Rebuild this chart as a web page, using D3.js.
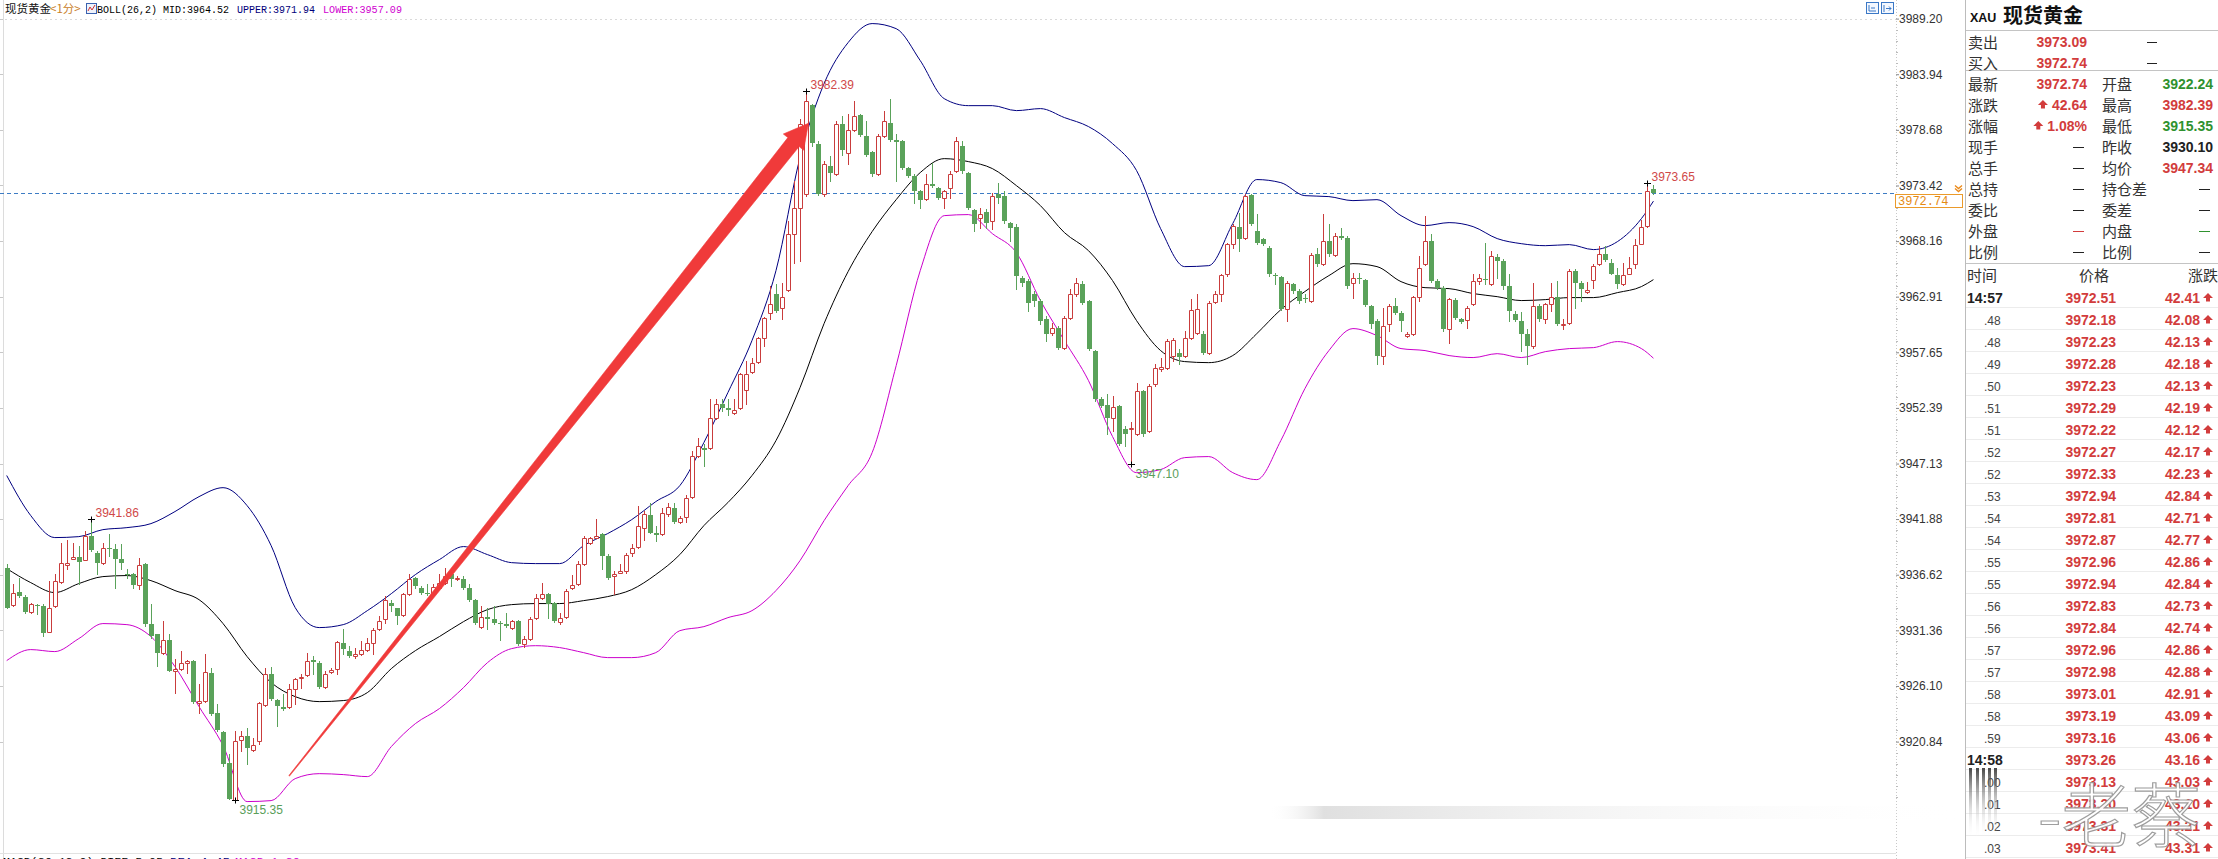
<!DOCTYPE html>
<html><head><meta charset="utf-8">
<script src="https://cdn.jsdelivr.net/npm/d3@7"></script>
<style>body{margin:0;background:#fff;}svg{display:block;}</style>
</head><body><svg id="c" width="2218" height="859"></svg>
<script>
// ---------------- DATA ----------------
const opens = [3937.29,3933.79,3935.03,3934.55,3933.13,3933.79,3933.70,3931.24,3933.70,3935.97,
3937.57,3938.14,3938.33,3938.05,3940.31,3938.71,3937.76,3939.18,3939.09,3938.14,
3936.72,3936.72,3935.68,3937.67,3932.00,3931.05,3929.25,3930.48,3927.55,3927.74,
3928.31,3928.50,3924.53,3924.72,3927.36,3923.58,3921.78,3918.85,3915.35,3921.03,
3921.41,3920.08,3920.93,3924.34,3927.27,3924.81,3924.15,3924.15,3925.85,3926.89,
3927.17,3928.59,3928.31,3926.04,3927.46,3927.74,3930.20,3929.44,3928.97,3929.16,
3929.54,3930.20,3931.52,3932.47,3933.98,3933.51,3932.85,3934.83,3936.35,3935.40,
3934.93,3934.93,3935.40,3935.87,3936.72,3936.25,3936.25,3935.40,3934.26,3931.71,
3932.66,3932.47,3932.09,3932.00,3931.62,3932.28,3930.10,3930.58,3932.56,3934.45,
3934.83,3933.98,3932.19,3932.66,3935.40,3935.78,3937.67,3939.65,3940.13,3940.51,
3938.42,3936.54,3936.82,3937.01,3938.71,3939.28,3941.07,3942.30,3940.60,3940.51,
3942.40,3942.96,3941.64,3942.11,3944.00,3947.88,3948.63,3948.63,3951.47,3952.80,
3952.42,3951.95,3952.42,3954.12,3955.82,3956.77,3959.04,3961.40,3963.20,3961.87,
3963.57,3968.87,3971.33,3972.65,3981.07,3977.38,3972.65,3975.30,3974.54,3979.27,
3976.53,3978.70,3980.12,3978.14,3976.62,3974.54,3978.14,3979.37,3977.76,3977.66,
3975.11,3974.35,3972.94,3972.18,3973.60,3973.22,3972.27,3973.22,3974.83,3977.19,
3974.64,3971.14,3970.38,3970.95,3970.10,3972.65,3972.46,3969.91,3969.53,3964.71,
3964.43,3963.20,3962.54,3960.83,3959.51,3959.98,3958.09,3960.93,3963.20,3964.14,
3962.54,3957.81,3953.27,3952.70,3951.47,3952.61,3950.43,3950.43,3949.96,3954.03,
3950.24,3954.69,3956.11,3956.20,3957.34,3957.62,3957.34,3959.04,3959.51,3959.41,
3957.62,3962.44,3963.20,3965.09,3967.92,3969.53,3968.49,3972.56,3969.15,3968.40,
3967.55,3965.00,3964.80,3961.78,3964.14,3963.48,3962.82,3962.54,3966.98,3966.03,
3968.21,3966.88,3968.68,3968.49,3964.24,3964.71,3964.52,3962.06,3960.64,3957.34,
3960.36,3962.06,3961.40,3959.23,3959.41,3962.91,3966.03,3968.21,3964.43,3963.76,
3959.89,3962.63,3960.83,3960.74,3962.25,3964.43,3964.62,3964.14,3966.69,3966.32,
3963.95,3961.31,3960.64,3959.41,3958.28,3962.06,3960.83,3962.25,3962.91,3960.26,
3960.45,3965.37,3964.24,3963.39,3964.52,3966.03,3966.98,3966.13,3965.00,3964.14,
3965.09,3966.03,3967.92,3969.63,3973.13];
const highs = [3937.67,3935.78,3936.35,3934.74,3933.98,3933.89,3933.89,3936.06,3936.72,3939.65,
3939.94,3939.65,3939.37,3940.79,3941.86,3938.90,3939.65,3940.51,3939.56,3939.56,
3937.20,3936.82,3938.24,3937.76,3933.89,3931.05,3932.28,3931.05,3928.69,3929.44,
3928.59,3928.59,3926.32,3929.16,3927.84,3924.43,3921.88,3919.70,3921.88,3921.88,
3922.16,3921.22,3924.62,3927.84,3927.93,3924.91,3925.38,3926.32,3926.89,3927.27,
3929.25,3928.97,3928.50,3927.55,3927.84,3930.39,3931.52,3929.91,3929.73,3930.39,
3930.67,3931.62,3932.75,3934.64,3934.26,3933.51,3934.93,3936.72,3936.44,3935.59,
3935.78,3935.78,3936.72,3937.29,3936.82,3936.54,3936.54,3935.78,3934.36,3933.70,
3933.51,3933.70,3932.28,3933.03,3932.37,3932.37,3930.86,3932.66,3934.83,3935.87,
3934.93,3934.07,3933.03,3935.31,3936.63,3937.95,3940.31,3940.22,3941.92,3940.60,
3938.61,3937.01,3937.67,3938.71,3939.56,3943.15,3942.68,3943.44,3941.26,3942.96,
3943.44,3943.44,3942.21,3944.19,3948.35,3949.58,3949.01,3953.27,3953.27,3953.27,
3953.27,3953.27,3955.73,3956.86,3957.15,3959.13,3961.02,3963.95,3964.14,3964.24,
3970.10,3973.88,3979.74,3982.39,3981.16,3977.66,3975.77,3976.24,3979.55,3980.03,
3980.22,3981.45,3980.22,3979.55,3976.72,3978.33,3980.50,3981.63,3978.33,3977.76,
3975.21,3974.54,3973.03,3974.54,3975.58,3973.31,3973.03,3974.83,3978.04,3977.66,
3974.73,3971.23,3971.33,3971.23,3972.75,3973.69,3972.94,3970.01,3969.82,3964.90,
3964.62,3963.48,3962.72,3961.12,3960.45,3960.17,3961.12,3963.67,3964.71,3964.43,
3962.63,3957.90,3953.46,3953.74,3953.55,3952.70,3950.71,3951.09,3954.78,3954.12,
3954.69,3956.58,3957.15,3958.94,3959.04,3958.00,3959.70,3962.72,3963.20,3959.70,
3962.54,3963.48,3965.09,3968.02,3969.82,3970.86,3972.65,3972.65,3970.76,3968.49,
3967.73,3965.18,3964.90,3964.43,3964.24,3963.67,3963.20,3967.07,3967.55,3970.76,
3969.82,3968.96,3969.44,3968.68,3965.18,3965.18,3964.62,3962.16,3960.83,3961.87,
3962.25,3962.82,3961.59,3959.60,3963.01,3966.79,3970.57,3968.87,3964.62,3963.95,
3962.82,3962.82,3960.93,3962.06,3965.09,3965.09,3968.02,3967.26,3966.98,3966.51,
3965.09,3961.59,3961.50,3959.89,3964.24,3962.25,3962.35,3964.24,3964.43,3960.83,
3965.56,3965.56,3964.43,3964.33,3966.03,3967.73,3967.73,3966.51,3965.66,3966.13,
3966.69,3968.40,3970.19,3973.65,3973.50];
const lows = [3933.51,3933.70,3934.55,3933.03,3933.03,3932.94,3930.86,3931.24,3933.60,3935.87,
3937.20,3938.14,3935.78,3938.05,3938.90,3936.72,3937.67,3938.42,3935.40,3937.20,
3936.35,3935.40,3935.31,3931.81,3930.67,3928.02,3929.16,3927.55,3925.47,3927.65,
3927.36,3924.53,3923.58,3924.62,3923.39,3921.88,3918.57,3915.45,3915.35,3919.99,
3918.76,3919.99,3920.65,3924.24,3924.81,3922.35,3923.87,3924.05,3924.43,3925.94,
3927.08,3927.27,3925.94,3925.94,3927.36,3927.27,3929.16,3928.88,3928.78,3929.06,
3929.44,3929.16,3931.43,3932.09,3933.22,3932.00,3932.75,3934.74,3935.40,3934.83,
3934.74,3934.83,3935.40,3935.78,3935.59,3936.16,3935.31,3934.17,3932.00,3931.62,
3931.52,3932.00,3930.48,3931.71,3931.52,3930.01,3929.82,3930.48,3932.47,3934.36,
3932.56,3932.19,3932.00,3932.56,3935.31,3935.68,3937.57,3939.56,3940.13,3937.20,
3936.25,3934.83,3936.82,3936.82,3938.42,3939.18,3939.94,3940.60,3939.84,3940.41,
3942.21,3941.54,3941.54,3941.64,3943.91,3947.79,3946.87,3948.54,3951.38,3952.13,
3951.76,3951.85,3952.32,3952.80,3955.73,3956.67,3958.28,3960.83,3961.50,3960.83,
3963.48,3966.13,3966.32,3972.46,3977.19,3972.56,3972.46,3973.88,3974.45,3976.34,
3975.49,3978.61,3978.14,3976.24,3974.35,3974.45,3978.04,3977.66,3973.88,3975.02,
3974.26,3971.80,3971.33,3972.08,3973.31,3972.18,3971.33,3972.27,3974.73,3974.64,
3971.23,3969.15,3969.44,3969.44,3969.34,3971.80,3969.91,3968.21,3963.67,3963.95,
3961.59,3962.06,3960.36,3958.75,3959.32,3958.00,3958.00,3960.83,3963.01,3962.25,
3957.90,3953.08,3952.51,3949.96,3950.24,3948.92,3948.82,3947.10,3949.87,3949.77,
3950.15,3954.50,3955.92,3956.11,3956.86,3956.58,3957.24,3958.94,3959.41,3957.53,
3957.53,3962.35,3962.54,3964.90,3967.55,3967.26,3968.40,3969.72,3967.92,3967.83,
3964.90,3964.14,3961.68,3960.64,3963.29,3962.35,3962.44,3962.44,3965.84,3965.94,
3966.79,3966.79,3968.40,3963.76,3962.82,3964.24,3962.06,3959.98,3956.58,3956.58,
3959.70,3961.31,3959.70,3959.13,3959.32,3962.54,3965.94,3964.33,3963.67,3959.70,
3958.56,3960.83,3960.45,3959.98,3962.16,3964.14,3964.14,3964.05,3964.71,3963.67,
3960.64,3960.64,3957.81,3956.58,3958.09,3960.64,3960.45,3961.59,3960.26,3959.89,
3960.36,3961.87,3962.54,3963.29,3963.76,3965.94,3966.32,3965.09,3963.76,3964.05,
3965.09,3965.66,3967.92,3969.53,3972.65];
const closes = [3933.51,3934.93,3934.64,3933.13,3933.89,3933.70,3931.14,3933.51,3936.06,3937.76,
3937.76,3938.33,3937.86,3940.31,3938.99,3937.76,3939.18,3939.09,3938.14,3937.76,
3936.63,3935.68,3937.57,3932.00,3930.86,3929.25,3930.48,3927.55,3927.74,3928.31,
3928.50,3924.62,3924.72,3927.46,3923.49,3921.97,3918.76,3915.45,3920.93,3921.41,
3920.27,3920.56,3924.53,3927.27,3924.91,3924.24,3923.96,3925.85,3926.80,3926.99,
3928.50,3928.40,3926.04,3927.27,3927.65,3930.29,3929.63,3928.97,3929.16,3929.54,
3930.20,3931.43,3932.28,3934.26,3933.70,3932.75,3934.83,3936.25,3935.59,3934.93,
3934.83,3935.49,3935.87,3936.54,3936.25,3936.35,3935.40,3934.26,3932.09,3932.66,
3932.47,3932.09,3932.00,3931.81,3932.28,3930.10,3930.58,3932.47,3934.45,3934.83,
3933.89,3932.28,3932.56,3935.12,3935.68,3937.67,3940.13,3940.13,3940.31,3938.42,
3936.35,3936.72,3937.01,3938.52,3939.18,3941.26,3942.40,3940.60,3940.41,3942.49,
3943.06,3941.64,3942.02,3943.91,3947.88,3948.82,3948.44,3951.47,3952.80,3952.42,
3952.23,3952.23,3955.63,3955.63,3956.67,3959.04,3960.93,3962.25,3961.59,3962.91,
3968.87,3971.33,3979.27,3981.45,3977.47,3972.65,3975.49,3974.64,3979.27,3976.81,
3978.70,3980.03,3978.23,3976.34,3974.54,3978.14,3979.55,3977.76,3977.57,3975.11,
3974.35,3972.94,3972.08,3973.60,3973.41,3972.27,3972.94,3974.54,3977.66,3974.83,
3971.33,3969.82,3970.76,3969.91,3972.46,3972.27,3970.10,3969.44,3964.90,3964.24,
3962.35,3962.54,3960.64,3959.41,3959.98,3958.09,3960.93,3963.20,3964.24,3962.35,
3958.00,3953.27,3952.61,3951.47,3952.51,3949.01,3949.96,3950.52,3954.03,3949.96,
3954.50,3956.20,3956.30,3958.75,3958.85,3957.24,3959.04,3961.68,3961.78,3957.62,
3962.35,3963.20,3965.00,3967.92,3969.63,3968.40,3972.46,3969.82,3968.02,3967.92,
3965.09,3964.90,3961.78,3964.24,3963.48,3962.54,3962.72,3966.88,3966.03,3968.21,
3966.98,3968.68,3968.49,3963.95,3964.71,3964.62,3962.16,3960.36,3957.34,3960.17,
3962.06,3961.40,3960.64,3959.41,3962.91,3965.66,3968.21,3964.43,3963.76,3959.89,
3962.72,3960.93,3960.55,3961.87,3964.43,3964.71,3964.52,3966.79,3966.32,3963.95,
3961.59,3960.74,3959.41,3958.28,3962.06,3960.83,3962.25,3962.91,3960.36,3960.36,
3965.37,3964.24,3963.67,3963.57,3965.84,3966.98,3966.41,3965.09,3964.14,3965.00,
3965.66,3967.83,3969.53,3972.94,3972.74];

// Bollinger band readings (candle number -> value)
const bandIdx = [1,5,9,13,17,21,25,29,33,37,41,45,49,53,57,61,65,69,73,77,81,85,89,93,97,101,105,109,113,117,121,125,129,133,137,141,145,149,153,157,161,165,169,173,177,181,185,189,193,197,201,205,209,213,217,221,225,229,233,237,241,245,249,253,257,261,265,269,273,275];
const upperBand = [3946.00,3942.21,3940.13,3940.22,3940.88,3941.07,3941.45,3942.59,3944.00,3944.85,3943.15,3939.37,3933.51,3931.62,3931.90,3933.22,3934.83,3936.63,3938.05,3939.28,3938.52,3937.76,3937.67,3937.67,3939.37,3940.51,3941.83,3943.53,3945.04,3949.11,3953.84,3958.75,3965.37,3976.06,3983.05,3986.93,3988.73,3988.25,3985.23,3981.63,3980.97,3980.97,3980.50,3980.69,3979.84,3978.99,3977.38,3974.83,3969.34,3965.75,3965.84,3969.82,3973.98,3973.69,3972.46,3972.37,3971.99,3972.08,3970.57,3969.63,3969.91,3969.53,3968.40,3967.92,3967.73,3967.83,3967.36,3968.11,3970.29,3971.94];
const midBand = [3937.20,3935.87,3934.93,3935.78,3936.44,3936.54,3936.06,3935.12,3934.26,3932.00,3928.88,3926.42,3925.09,3924.62,3924.72,3925.47,3927.74,3929.44,3930.77,3932.18,3933.32,3933.79,3933.89,3933.89,3934.17,3934.55,3935.21,3936.63,3938.52,3941.26,3943.44,3945.99,3949.30,3954.31,3960.36,3965.28,3969.06,3972.08,3974.64,3975.96,3975.68,3975.02,3973.41,3971.52,3968.96,3967.26,3964.43,3960.64,3957.81,3956.77,3956.67,3957.34,3959.41,3961.68,3963.39,3964.90,3966.03,3965.75,3964.33,3963.76,3963.67,3963.20,3962.91,3962.54,3962.63,3962.82,3962.82,3963.29,3963.86,3964.52];
const lowerBand = [3928.50,3929.54,3929.35,3930.58,3932.00,3931.90,3930.77,3927.93,3924.15,3920.46,3915.17,3915.26,3917.34,3917.81,3917.72,3917.53,3920.37,3922.54,3923.96,3925.94,3928.31,3929.63,3929.91,3929.73,3929.25,3928.78,3928.78,3929.25,3931.33,3931.71,3932.56,3933.22,3935.12,3937.95,3941.73,3945.04,3948.16,3956.39,3965.37,3970.57,3970.67,3968.87,3967.07,3962.54,3958.75,3954.97,3949.68,3946.27,3946.56,3947.69,3947.79,3946.27,3945.61,3949.30,3954.21,3957.81,3959.89,3959.23,3958.00,3957.81,3957.34,3957.15,3957.52,3957.15,3957.71,3958.00,3958.09,3958.66,3958.00,3957.09];

const yTicks = [3989.20,3983.94,3978.68,3973.42,3968.16,3962.91,3957.65,3952.39,3947.13,3941.88,3936.62,3931.36,3926.10,3920.84];
const lastPrice = 3972.74;
const extremeMarks = [
  {i:15, v:3941.86, kind:'high'},
  {i:39, v:3915.35, kind:'low'},
  {i:134, v:3982.39, kind:'high'},
  {i:188, v:3947.10, kind:'low'},
  {i:274, v:3973.65, kind:'high'}
];
const arrowFrom = [48.0, 3917.6];
const arrowTo = [134.4, 3979.3];

// Right quote panel
const quoteTop = [['卖出','3973.09'],['买入','3972.74']];
const quoteLeft = [['最新','3972.74','r'],['涨跌','42.64','ru'],['涨幅','1.08%','ru'],['现手','—','k'],['总手','—','k'],['总持','—','k'],['委比','—','k'],['外盘','—','r'],['比例','—','k']];
const quoteRight = [['开盘','3922.24','g'],['最高','3982.39','r'],['最低','3915.35','g'],['昨收','3930.10','k'],['均价','3947.34','r'],['持仓差','—','k'],['委差','—','k'],['内盘','—','g'],['比例','—','k']];
const tickTimes = ['14:57','.48','.48','.49','.50','.51','.51','.52','.52','.53','.54','.54','.55','.55','.56','.56','.57','.57','.58','.58','.59','14:58','.00','.01','.02','.03'];
const tickPrices = ['3972.51','3972.18','3972.23','3972.28','3972.23','3972.29','3972.22','3972.27','3972.33','3972.94','3972.81','3972.87','3972.96','3972.94','3972.83','3972.84','3972.96','3972.98','3973.01','3973.19','3973.16','3973.26','3973.13','3973.20','3973.31','3973.41'];
const tickChanges = ['42.41','42.08','42.13','42.18','42.13','42.19','42.12','42.17','42.23','42.84','42.71','42.77','42.86','42.84','42.73','42.74','42.86','42.88','42.91','43.09','43.06','43.16','43.03','43.10','43.21','43.31'];

// ---------------- DRAW ----------------
const RED = '#c93c3c', GREEN = '#5aa25a';
const QRED = '#d23c3c', QGREEN = '#2f922f';
const svg = d3.select('#c');
svg.append('rect').attr('width',2218).attr('height',859).attr('fill','#fff');

const x = d3.scaleLinear().domain([1,275]).range([6.7, 6.7+274*6.01]);
const y = d3.scaleLinear().domain([3920.84,3989.20]).range([741.6,18.6]);

// frame lines
svg.append('line').attr('x1',3.5).attr('x2',3.5).attr('y1',0).attr('y2',859).attr('stroke','#dcdcdc');
svg.append('line').attr('x1',0).attr('x2',1896).attr('y1',853.5).attr('y2',853.5).attr('stroke','#e2e2e2');
svg.append('line').attr('x1',0).attr('x2',1896).attr('y1',Math.round(y(yTicks[0]))+0.5).attr('y2',Math.round(y(yTicks[0]))+0.5).attr('stroke','#dadada').attr('stroke-dasharray','2,3');
svg.append('g').selectAll('line').data(yTicks).join('line')
  .attr('x1',0).attr('x2',3).attr('y1',d=>Math.round(y(d))+0.5).attr('y2',d=>Math.round(y(d))+0.5).attr('stroke','#c8c8c8');

// header
const hdr = svg.append('g');
hdr.append('text').attr('x',5).attr('y',13).attr('font-family','Noto Sans CJK SC').attr('font-size',11.5).attr('fill','#111').text('现货黄金');
hdr.append('text').attr('x',50).attr('y',13).attr('font-family','Noto Sans CJK SC').attr('font-size',11.5).attr('fill','#c9802a').text('<1分>');
hdr.append('rect').attr('x',86.5).attr('y',3.5).attr('width',10).attr('height',10).attr('fill','#eef2fb').attr('stroke','#3a62b0');
hdr.append('path').attr('d','M88,11 L90,7 L92,10 L95,5').attr('fill','none').attr('stroke','#d03030');
const mono = 'Liberation Mono, DejaVu Sans Mono, monospace';
hdr.append('text').attr('x',97).attr('y',13).attr('font-family',mono).attr('font-size',11.5).attr('textLength',132).attr('lengthAdjust','spacingAndGlyphs').attr('fill','#000')
  .text('BOLL(26,2) MID:' + midBand[midBand.length-1].toFixed(2));
hdr.append('text').attr('x',237).attr('y',13).attr('font-family',mono).attr('font-size',11.5).attr('textLength',78).attr('lengthAdjust','spacingAndGlyphs').attr('fill','#00007a')
  .text('UPPER:' + upperBand[upperBand.length-1].toFixed(2));
hdr.append('text').attr('x',323).attr('y',13).attr('font-family',mono).attr('font-size',11.5).attr('textLength',79).attr('lengthAdjust','spacingAndGlyphs').attr('fill','#d000d0')
  .text('LOWER:' + lowerBand[lowerBand.length-1].toFixed(2));

// bottom MACD text (clipped at the edge, as in the source)
const macd = svg.append('g').attr('font-family',mono).attr('font-size',11);
macd.append('text').attr('x',3).attr('y',865).attr('textLength',160).attr('lengthAdjust','spacingAndGlyphs').attr('fill','#000').text('MACD(26,12,9) DIFF:5.05');
macd.append('text').attr('x',170).attr('y',865).attr('textLength',60).attr('lengthAdjust','spacingAndGlyphs').attr('fill','#00007a').text('DEA:4.45');
macd.append('text').attr('x',235).attr('y',865).attr('textLength',65).attr('lengthAdjust','spacingAndGlyphs').attr('fill','#d000d0').text('MACD:1.20');

// right y axis
const axisG = svg.append('g').attr('transform','translate(1896,0)');
axisG.append('line').attr('x1',0.5).attr('x2',0.5).attr('y1',0).attr('y2',859).attr('stroke','#c8c8c8').attr('stroke-dasharray','1,2');
const ax = d3.axisRight(y).tickValues(yTicks).tickFormat(d3.format('.2f')).tickSize(3).tickPadding(0);
axisG.append('g').call(ax).call(g=>{
  g.select('.domain').remove();
  g.selectAll('.tick line').attr('stroke','#888');
  g.selectAll('.tick text').attr('font-family','Liberation Sans, Arial').attr('font-size',12).attr('fill','#333');
});
const minor = [];
yTicks.forEach((t,k)=>{ for(let j=1;j<5;j++){ minor.push(t - j*(yTicks[0]-yTicks[1])/5); } });
for(let j=1;j<6;j++) minor.push(yTicks[yTicks.length-1]-j*(yTicks[0]-yTicks[1])/5);
axisG.append('g').selectAll('line').data(minor.filter(v=>y(v)<850)).join('line')
  .attr('x1',0).attr('x2',2).attr('y1',d=>Math.round(y(d))+0.5).attr('y2',d=>Math.round(y(d))+0.5).attr('stroke','#bbb');

// top-right small icons
[1866,1881].forEach((ix,k)=>{
  svg.append('rect').attr('x',ix+0.5).attr('y',2.5).attr('width',12).attr('height',11).attr('fill','#f4f8ff').attr('stroke','#3b78c6');
  svg.append('path').attr('d', k===0 ? `M${ix+3},5 v6 h7 M${ix+5},8 h4` : `M${ix+3},5 v7 M${ix+5},8.5 h5 M${ix+8},6.5 l2,2 l-2,2`).attr('fill','none').attr('stroke','#3b78c6');
});

// current price dashed line
const yLast = Math.round(y(lastPrice))+0.5;
svg.append('line').attr('x1',0).attr('x2',1895).attr('y1',yLast).attr('y2',yLast).attr('stroke','#3d7cc4').attr('stroke-dasharray','4,3');

// bands
const bandLine = vals => d3.line().x((d,k)=>x(bandIdx[k])).y(d=>y(d)).curve(d3.curveMonotoneX)(vals);
svg.append('path').attr('d',bandLine(lowerBand)).attr('fill','none').attr('stroke','#cc00cc').attr('stroke-width',1);
svg.append('path').attr('d',bandLine(midBand)).attr('fill','none').attr('stroke','#000').attr('stroke-width',1);
svg.append('path').attr('d',bandLine(upperBand)).attr('fill','none').attr('stroke','#000080').attr('stroke-width',1);

// candles
const cg = svg.append('g');
for(let k=0;k<opens.length;k++){
  const i=k+1, o=opens[k], c=closes[k], h=highs[k], l=lows[k];
  const cx = Math.round(x(i));
  const up = c>=o;
  const yt = Math.round(y(Math.max(o,c))), yb = Math.round(y(Math.min(o,c)));
  const yh = Math.round(y(h)), yl = Math.round(y(l));
  if(up){
    if(yh<yt) cg.append('line').attr('x1',cx+0.5).attr('x2',cx+0.5).attr('y1',yh).attr('y2',yt).attr('stroke',RED);
    if(yl>yb) cg.append('line').attr('x1',cx+0.5).attr('x2',cx+0.5).attr('y1',yb).attr('y2',yl+1).attr('stroke',RED);
    cg.append('path').attr('d',`M${cx-1.5},${yt+0.5}h4v${Math.max(0,yb-yt)}h-4z`).attr('fill','#fff').attr('stroke',RED);
  } else {
    cg.append('line').attr('x1',cx+0.5).attr('x2',cx+0.5).attr('y1',yh).attr('y2',yl+1).attr('stroke',GREEN);
    cg.append('rect').attr('x',cx-2).attr('y',yt).attr('width',5).attr('height',Math.max(1,yb-yt)).attr('fill',GREEN);
  }
}

// extreme marks
const mg = svg.append('g').attr('font-family','Liberation Sans, Arial').attr('font-size',12);
extremeMarks.forEach(m=>{
  const cx = Math.round(x(m.i))+0.5, yy = Math.round(y(m.v))+0.5;
  mg.append('path').attr('d',`M${cx-3.5},${yy}h7M${cx},${yy-3}v6`).attr('stroke','#000').attr('fill','none');
  mg.append('text').attr('x',cx+4).attr('y', m.kind==='high' ? yy-3 : yy+13)
    .attr('fill', m.kind==='high' ? '#d04848' : '#5a9e5a').text(m.v.toFixed(2));
});

// red arrow annotation
(function(){
  const tx=x(arrowFrom[0]), ty=y(arrowFrom[1]), px=x(arrowTo[0]), py=y(arrowTo[1]);
  const L=Math.hypot(px-tx,py-ty), ux=(px-tx)/L, uy=(py-ty)/L, nx=-uy, ny=ux;
  const hl=24, hw=13, w0=0.4, w1=7.2;
  const bx=px-ux*hl, by=py-uy*hl;
  const pts=[[tx+nx*w0,ty+ny*w0],[bx+nx*w1,by+ny*w1],[bx+nx*hw,by+ny*hw],[px,py],[bx-nx*hw,by-ny*hw],[bx-nx*w1,by-ny*w1],[tx-nx*w0,ty-ny*w0]];
  svg.append('path').attr('d','M'+pts.map(p=>p.join(',')).join('L')+'Z').attr('fill','#f03a3a').attr('stroke','#f03a3a').attr('stroke-width',0.6).attr('stroke-linejoin','round');
})();

// current price tag
const tag = svg.append('g');
tag.append('rect').attr('x',1895.5).attr('y',yLast+1).attr('width',67).attr('height',13).attr('fill','#fff').attr('stroke','#eb9a2a');
tag.append('text').attr('x',1898).attr('y',yLast+11.5).attr('font-family',mono).attr('font-size',12).attr('fill','#e58a12').text(lastPrice.toFixed(2));
tag.append('path').attr('d',`M1955,${yLast-8}l3.5,3l3.5,-3M1955,${yLast-5}l3.5,3l3.5,-3`).attr('fill','none').attr('stroke','#eb8a1a').attr('stroke-width',1.4);

// ---------------- right panel ----------------
const P = svg.append('g');
P.append('rect').attr('x',1966).attr('y',0).attr('width',252).attr('height',859).attr('fill','#fff');
P.append('line').attr('x1',1965.5).attr('x2',1965.5).attr('y1',0).attr('y2',859).attr('stroke','#bcbcbc');
[30.5,70.5,263.5].forEach(yy=>P.append('line').attr('x1',1966).attr('x2',2218).attr('y1',yy).attr('y2',yy).attr('stroke','#c4c4c4'));
P.append('text').attr('x',1970).attr('y',22).attr('font-family','Liberation Sans, Arial').attr('font-weight','bold').attr('font-size',12.5).attr('fill','#111').text('XAU');
P.append('text').attr('x',2003).attr('y',23).attr('font-family','Noto Sans CJK SC').attr('font-weight','bold').attr('font-size',20).attr('fill','#111').text('现货黄金');

const cjk = 'Noto Sans CJK SC';
const numf = 'Liberation Sans, Arial';
const colorOf = c => c.startsWith('r') ? QRED : c==='g' ? QGREEN : '#222';
function upArrow(g, x0, yc, col){
  g.append('path').attr('d',`M${x0+5},${yc-5}L${x0+10},${yc}L${x0+7},${yc}L${x0+7},${yc+3.5}L${x0+3},${yc+3.5}L${x0+3},${yc}L${x0},${yc}Z`).attr('fill',col);
}
quoteTop.forEach((r,k)=>{
  const yc = 42 + k*21;
  P.append('text').attr('x',1968).attr('y',yc+5.5).attr('font-family',cjk).attr('font-size',15).attr('fill','#333').text(r[0]);
  P.append('text').attr('x',2087).attr('y',yc+5).attr('text-anchor','end').attr('font-family',numf).attr('font-weight','bold').attr('font-size',14).attr('fill',QRED).text(r[1]);
  P.append('line').attr('x1',2147).attr('x2',2157).attr('y1',yc+0.5).attr('y2',yc+0.5).attr('stroke','#222');
});
quoteLeft.forEach((r,k)=>{
  const yc = 84 + k*21;
  P.append('text').attr('x',1968).attr('y',yc+5.5).attr('font-family',cjk).attr('font-size',15).attr('fill','#333').text(r[0]);
  if(r[1]==='—'){
    P.append('line').attr('x1',2073).attr('x2',2084).attr('y1',yc+0.5).attr('y2',yc+0.5).attr('stroke',colorOf(r[2]));
  } else {
    const t = P.append('text').attr('x',2087).attr('y',yc+5).attr('text-anchor','end').attr('font-family',numf).attr('font-weight','bold').attr('font-size',14).attr('fill',colorOf(r[2])).text(r[1]);
    if(r[2]==='ru'){ const w=t.node().getComputedTextLength(); upArrow(P, 2087-w-14, yc, QRED); }
  }
});
quoteRight.forEach((r,k)=>{
  const yc = 84 + k*21;
  P.append('text').attr('x',2102).attr('y',yc+5.5).attr('font-family',cjk).attr('font-size',15).attr('fill','#333').text(r[0]);
  if(r[1]==='—'){
    P.append('line').attr('x1',2199).attr('x2',2210).attr('y1',yc+0.5).attr('y2',yc+0.5).attr('stroke',colorOf(r[2]));
  } else {
    P.append('text').attr('x',2213).attr('y',yc+5).attr('text-anchor','end').attr('font-family',numf).attr('font-weight','bold').attr('font-size',14).attr('fill',colorOf(r[2])).text(r[1]);
  }
});
// tick list
P.append('text').attr('x',1967).attr('y',281).attr('font-family',cjk).attr('font-size',15).attr('fill','#333').text('时间');
P.append('text').attr('x',2094).attr('y',281).attr('text-anchor','middle').attr('font-family',cjk).attr('font-size',15).attr('fill','#333').text('价格');
P.append('text').attr('x',2188).attr('y',281).attr('font-family',cjk).attr('font-size',15).attr('fill','#333').text('涨跌');
tickTimes.forEach((t,k)=>{
  const yc = 298 + k*22;
  P.append('line').attr('x1',1966).attr('x2',2218).attr('y1',yc+9.5).attr('y2',yc+9.5).attr('stroke','#ececec');
  if(t.includes(':')) P.append('text').attr('x',1967).attr('y',yc+5).attr('font-family',numf).attr('font-weight','bold').attr('font-size',14).attr('fill','#222').text(t);
  else P.append('text').attr('x',1984).attr('y',yc+4.5).attr('font-family',numf).attr('font-size',12).attr('fill','#444').text(t);
  P.append('text').attr('x',2116).attr('y',yc+5).attr('text-anchor','end').attr('font-family',numf).attr('font-weight','bold').attr('font-size',14).attr('fill',QRED).text(tickPrices[k]);
  P.append('text').attr('x',2200).attr('y',yc+5).attr('text-anchor','end').attr('font-family',numf).attr('font-weight','bold').attr('font-size',14).attr('fill',QRED).text(tickChanges[k]);
  upArrow(P, 2203, yc, QRED);
});

// watermark / blur artifacts
const defs = svg.append('defs');
const lg = defs.append('linearGradient').attr('id','hbar');
lg.append('stop').attr('offset','0').attr('stop-color','#ffffff').attr('stop-opacity',0);
lg.append('stop').attr('offset','0.08').attr('stop-color','#dcdcdc').attr('stop-opacity',0.9);
lg.append('stop').attr('offset','1').attr('stop-color','#ffffff').attr('stop-opacity',0);
svg.append('rect').attr('x',1268).attr('y',806).attr('width',700).attr('height',13).attr('rx',6).attr('fill','url(#hbar)');
const vg = defs.append('linearGradient').attr('id','vbar').attr('x1',0).attr('x2',0).attr('y1',0).attr('y2',1);
vg.append('stop').attr('offset','0').attr('stop-color','#333').attr('stop-opacity',0.9);
vg.append('stop').attr('offset','1').attr('stop-color','#fff').attr('stop-opacity',0);
[1969,1976,1982,1988,1994].forEach(vx=>svg.append('rect').attr('x',vx).attr('y',768).attr('width',3).attr('height',70).attr('fill','url(#vbar)'));
svg.append('text').attr('x',2038).attr('y',842).attr('font-family',cjk).attr('font-size',70).attr('font-weight',300).attr('fill','#fff').attr('stroke','#999').attr('stroke-width',1.2).attr('opacity',0.95).text('-老蔡');
</script></body></html>
